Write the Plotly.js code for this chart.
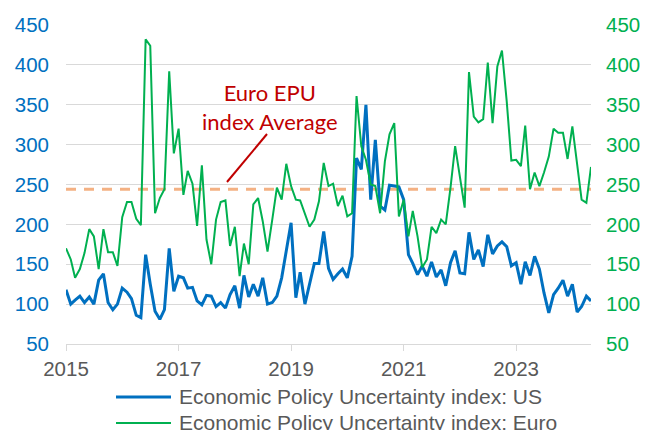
<!DOCTYPE html>
<html><head><meta charset="utf-8">
<script src="https://cdn.plot.ly/plotly-3.0.1.min.js"></script>
<style>html,body{margin:0;padding:0;background:#fff;overflow:hidden;} #chart{width:646px;height:430px;}</style>
</head><body><div id="chart"></div>
<script>
// ---- data (monthly, Jan 2015 onward) ----
const startYear = 2015;
const usEPU = [
  118, 100, 105, 110, 102, 109, 100, 130, 138, 102, 93, 100,
  120, 115, 107, 86, 83, 162, 125, 91, 81, 93, 170, 116,
  135, 133, 120, 121, 104, 99, 111, 110, 97, 102, 95, 112,
  123, 95, 136, 109, 125, 110, 133, 100, 102, 110, 133, 168,
  202, 108, 140, 100, 125, 151, 151, 191, 145, 131, 138, 144,
  133, 160, 283, 269, 350, 231, 306, 223, 218, 249, 248, 247,
  231, 162, 151, 137, 148, 135, 153, 134, 143, 123, 152, 167,
  139, 138, 190, 156, 168, 147, 187, 163, 173, 178, 172, 148,
  152, 125, 153, 136, 160, 144, 114, 89, 112, 120, 130, 110,
  125, 90, 97, 110, 104
];
const euroEPU = [
  170, 156, 133, 144, 164, 194, 185, 144, 194, 165, 165, 148,
  209, 228, 228, 207, 199, 432, 424, 214, 233, 244, 392, 289,
  320, 237, 267, 251, 198, 274, 181, 150, 206, 228, 230, 173,
  197, 135, 176, 150, 225, 233, 204, 166, 206, 246, 231, 276,
  248, 231, 230, 214, 197, 206, 229, 277, 248, 251, 223, 236,
  210, 214, 361, 298, 281, 250, 248, 214, 279, 313, 327, 210,
  231, 185, 217, 185, 146, 156, 197, 189, 206, 200, 246, 298,
  260, 221, 391, 335, 328, 332, 403, 327, 398, 418, 354, 280,
  281, 273, 324, 244, 265, 248, 265, 285, 320, 315, 315, 282,
  323, 277, 231, 227, 272
];
const euroAvg = 244;
const seriesNames = ['Economic Policy Uncertainty index: US', 'Economic Policy Uncertainty index: Euro'];
const yTicks = [50, 100, 150, 200, 250, 300, 350, 400, 450];
const xTickYears = ['2015', '2017', '2019', '2021', '2023'];
const annotationText = 'Euro EPU<br>index Average';

// month dates
const months = usEPU.map((_, i) => {
  const y = startYear + Math.floor(i / 12);
  const m = (i % 12) + 1;
  return y + '-' + String(m).padStart(2, '0') + '-01';
});

const BLUE = '#0070C0', GREEN = '#00B050', GREY = '#595959', GRID = '#D9D9D9', RED = '#C00000';
const FONT = 'Liberation Sans, Arial, sans-serif';

const traces = [
  { x: [months[0], months[months.length - 1]], y: [euroAvg, euroAvg], type: 'scatter', mode: 'lines',
    line: { color: '#F4B183', width: 3, dash: '10px,8px' }, yaxis: 'y', showlegend: false, hoverinfo: 'skip' },
  { x: months, y: usEPU, name: seriesNames[0], type: 'scatter', mode: 'lines',
    line: { color: BLUE, width: 3, shape: 'linear' }, yaxis: 'y', showlegend: false },
  { x: months, y: euroEPU, name: seriesNames[1], type: 'scatter', mode: 'lines',
    line: { color: GREEN, width: 2, shape: 'linear' }, yaxis: 'y2', showlegend: false }
];

const L = 66, R = 55, T = 25, B = 86, W = 646, H = 430;
const pw = W - L - R, ph = H - T - B;
const px = v => (v - L) / pw;
const py = v => (H - B - v) / ph;

const layout = {
  width: W, height: H,
  margin: { l: L, r: R, t: T, b: B, pad: 0 },
  paper_bgcolor: '#fff', plot_bgcolor: '#fff',
  showlegend: false,
  xaxis: {
    type: 'date', range: [months[0], months[months.length - 1]],
    tickvals: xTickYears.map(y => y + '-01-01'), ticktext: xTickYears,
    ticks: 'outside', ticklen: 6, tickcolor: GRID, tickwidth: 1,
    showline: true, linecolor: GRID, linewidth: 1,
    showgrid: false, zeroline: false,
    tickfont: { family: FONT, size: 20.5, color: GREY }
  },
  yaxis: {
    range: [50, 450], tickvals: yTicks, ticks: '', showgrid: true, gridcolor: GRID, gridwidth: 1,
    zeroline: false, showline: false, ticklabelstandoff: 16,
    tickfont: { family: FONT, size: 20.5, color: BLUE }
  },
  yaxis2: {
    range: [50, 450], tickvals: yTicks, ticks: '', overlaying: 'y', side: 'right',
    showgrid: false, zeroline: false, showline: false, ticklabelstandoff: 14,
    tickfont: { family: FONT, size: 20.5, color: GREEN }
  },
  shapes: [
    { type: 'line', xref: 'paper', yref: 'paper', x0: px(267), y0: py(134), x1: px(227), y1: py(182),
      line: { color: RED, width: 2 } },
    { type: 'line', xref: 'paper', yref: 'paper', x0: px(116), x1: px(171), y0: py(397), y1: py(397),
      line: { color: BLUE, width: 3 } },
    { type: 'line', xref: 'paper', yref: 'paper', x0: px(116), x1: px(171), y0: py(423), y1: py(423),
      line: { color: GREEN, width: 2 } }
  ],
  annotations: [
    { xref: 'paper', yref: 'paper', x: px(270), y: py(107), xanchor: 'center', yanchor: 'middle',
      text: annotationText, showarrow: false, align: 'center',
      font: { family: 'Lato, Carlito, sans-serif', size: 22, color: RED } },
    { xref: 'paper', yref: 'paper', x: px(177), y: py(396), xanchor: 'left', yanchor: 'middle',
      text: seriesNames[0], showarrow: false, font: { family: FONT, size: 21, color: GREY } },
    { xref: 'paper', yref: 'paper', x: px(177), y: py(422), xanchor: 'left', yanchor: 'middle',
      text: seriesNames[1], showarrow: false, font: { family: FONT, size: 21, color: GREY } }
  ]
};

Plotly.newPlot('chart', traces, layout, { displayModeBar: false, staticPlot: true });
</script>
</body></html>
